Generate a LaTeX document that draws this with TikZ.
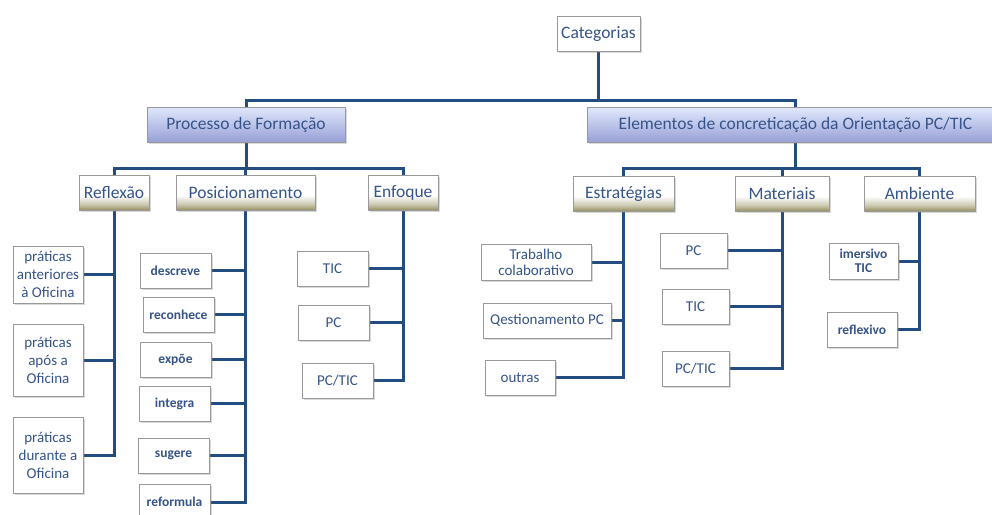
\documentclass[tikz,border=0pt]{standalone}
\usepackage{fontspec}
\setmainfont{Carlito}
\usetikzlibrary{shadows,backgrounds}
\definecolor{txtblue}{RGB}{54,84,138}
\definecolor{linkblue}{RGB}{35,76,128}
\definecolor{lavtop}{RGB}{224,231,252}
\definecolor{lavmid}{RGB}{200,208,245}
\definecolor{lavbot}{RGB}{152,160,214}
\definecolor{khaki}{RGB}{150,144,98}
\pgfdeclareverticalshading{khakishade}{100bp}{color(0bp)=(khaki); color(25bp)=(khaki); color(33bp)=(khaki!50!white); color(46bp)=(white); color(100bp)=(white)}
\tikzset{
  box/.style={draw=black!40, fill=white, text=txtblue, inner sep=0pt, align=center,
    minimum height=35pt, drop shadow={shadow xshift=1.5pt, shadow yshift=-1.5pt, opacity=0.3},
    font=\fontsize{15}{18}\selectfont},
  boldbox/.style={box, font=\fontsize{13.5}{16}\selectfont\bfseries},
  catbox/.style={box, font=\fontsize{17.5}{20}\selectfont},
  mainbox/.style={catbox, top color=lavtop, middle color=lavmid, bottom color=lavbot},
  subbox/.style={catbox, shading=khakishade},
  link/.style={draw=linkblue, line width=3pt, line cap=rect}
}
\begin{document}
\begin{tikzpicture}[x=1pt, y=-1pt]
		\useasboundingbox (0,0) rectangle (992,514);
		
		%%%%% TOP %%%%%
		\node[catbox, minimum width=83pt] (cat) at (598.5, 33.5) {Categorias};
		\node[mainbox, minimum width=198pt] (proc) at (246, 124.5) {Processo de Formação};
		\node[mainbox, minimum width=417pt] (elem) at (795.5, 125) {Elementos de concreticação da Orientação PC/TIC};
		
		\node[subbox, minimum width=70pt] (refl) at (114, 192.5) {Reflexão};
		\node[subbox, minimum width=139pt] (posi) at (245.5, 192.5) {Posicionamento};
		\node[subbox, minimum width=70pt] (enfo) at (403, 192.5) {Enfoque};
		
		\node[subbox, minimum width=101pt] (estr) at (623.5, 193.5) {Estratégias};
		\node[subbox, minimum width=94pt] (mate) at (782, 193.5) {Materiais};
		\node[subbox, minimum width=111pt] (ambi) at (919.5, 193.5) {Ambiente};
		
		%%%%% REFLEXAO %%%%%
		\node[box, minimum width=70pt, minimum height=57pt] (pr1) at (48, 274.5) {práticas\\anteriores\\à Oficina};
		\node[box, minimum width=70pt, minimum height=72pt] (pr2) at (48, 360) {práticas\\após a\\Oficina};
		\node[box, minimum width=70pt, minimum height=76pt] (pr3) at (48, 455) {práticas\\durante a\\Oficina};
		
		%%%%% POSICIONAMENTO %%%%%
		\node[boldbox, minimum width=71pt] (po1) at (175.5, 270.5) {descreve};
		\node[boldbox, minimum width=71pt] (po2) at (178.5, 314.5) {reconhece};
		\node[boldbox, minimum width=71pt] (po3) at (175.5, 359.5) {expõe};
		\node[boldbox, minimum width=71pt] (po4) at (174.5, 403.5) {integra};
		\node[boldbox, minimum width=71pt] (po5) at (173.5, 455.5) {sugere};
		\node[boldbox, minimum width=71pt] (po6) at (174.5, 502) {reformula};
		
		%%%%% ENFOQUE %%%%%
		\node[box, minimum width=71pt] (en1) at (332.5, 268.5) {TIC};
		\node[box, minimum width=71pt] (en2) at (333.5, 322.5) {PC};
		\node[box, minimum width=71pt] (en3) at (337.5, 380.5) {PC/TIC};
		
		%%%%% ESTRATEGIAS %%%%%
		\node[box, minimum width=110pt, minimum height=36pt] (es1) at (536, 262) {Trabalho\\[-2pt]colaborativo};
		\node[box, minimum width=128pt] (es2) at (547, 320.5) {Qestionamento PC};
		\node[box, minimum width=70pt] (es3) at (520, 377.5) {outras};
		
		%%%%% MATERIAIS %%%%%
		\node[box, minimum width=67pt] (ma1) at (693.5, 250.5) {PC};
		\node[box, minimum width=67pt] (ma2) at (695.5, 306.5) {TIC};
		\node[box, minimum width=67pt] (ma3) at (695.5, 368.5) {PC/TIC};
		
		%%%%% AMBIENTE %%%%%
		\node[boldbox, minimum width=69pt, minimum height=36pt] (am1) at (863.5, 261) {imersivo\\[-2pt]TIC};
		\node[boldbox, minimum width=70pt] (am2) at (862, 329.5) {reflexivo};
		
		%%%%% LINKS %%%%%
		\coordinate (bus0) at (0, 100);
		\coordinate (bus1) at (0, 168);
		\begin{scope}[on background layer]
			\draw[link] (cat.south) -- (cat.south |- bus0) -| (proc.north);
			\draw[link] (cat.south |- bus0) -| (elem.north);
			
			\draw[link] (proc.south) -- (proc.south |- bus1) -| (refl.north);
			\draw[link] (proc.south |- bus1) -| (posi.north);
			\draw[link] (proc.south |- bus1) -| (enfo.north);
			
			\draw[link] (elem.south) -- (elem.south |- bus1) -| (estr.north);
			\draw[link] (elem.south |- bus1) -| (mate.north);
			\draw[link] (elem.south |- bus1) -| (ambi.north);
			
			\foreach \c in {pr1,pr2,pr3} \draw[link] (refl.south) |- (\c.east);
			\foreach \c in {po1,po2,po3,po4,po5,po6} \draw[link] (posi.south) |- (\c.east);
			\foreach \c in {en1,en2,en3} \draw[link] (enfo.south) |- (\c.east);
			\foreach \c in {es1,es2,es3} \draw[link] (estr.south) |- (\c.east);
			\foreach \c in {ma1,ma2,ma3} \draw[link] (mate.south) |- (\c.east);
			\foreach \c in {am1,am2} \draw[link] (ambi.south) |- (\c.east);
		\end{scope}
	\end{tikzpicture}
\end{document}
